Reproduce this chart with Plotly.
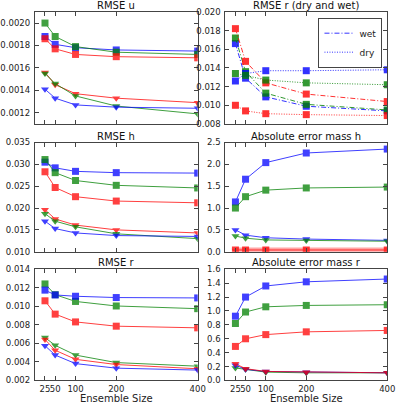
import plotly.graph_objects as go

ens = [25, 50, 100, 200, 400]
x_ticks = [25, 50, 100, 200, 400]

# RMSE u
u_sq_b = [0.00188, 0.00181, 0.00178, 0.00176, 0.00175]
u_sq_g = [0.00200, 0.00188, 0.00179, 0.00174, 0.00172]
u_sq_r = [0.00186, 0.00177, 0.00172, 0.00170, 0.00169]
u_tr_r = [0.00156, 0.00145, 0.00137, 0.00133, 0.00129]
u_tr_g = [0.00155, 0.00146, 0.00135, 0.00126, 0.00119]
u_tr_b = [0.00141, 0.00133, 0.00127, 0.00125, 0.00124]

# RMSE r (dry and wet)
rw_b = [0.0166, 0.0129, 0.0109, 0.0099, 0.0094]
rw_g = [0.0172, 0.0136, 0.0113, 0.0101, 0.0095]
rw_r = [0.0182, 0.0147, 0.0124, 0.0112, 0.0104]
rd_b = [0.0126, 0.0134, 0.0137, 0.0137, 0.0138]
rd_g = [0.0134, 0.0132, 0.0127, 0.0124, 0.0122]
rd_r = [0.0100, 0.0094, 0.0091, 0.0090, 0.0089]

# RMSE h
h_sq_b = [0.0305, 0.0292, 0.0284, 0.0281, 0.0280]
h_sq_g = [0.0311, 0.0281, 0.0263, 0.0252, 0.0246]
h_sq_r = [0.0283, 0.0247, 0.0226, 0.0216, 0.0212]
h_tr_r = [0.0196, 0.0175, 0.0161, 0.0150, 0.0143]
h_tr_g = [0.0187, 0.0170, 0.0157, 0.0141, 0.0130]
h_tr_b = [0.0170, 0.0153, 0.0143, 0.0137, 0.0135]

# Absolute error mass h
mh_sq_b = [1.14, 1.66, 2.04, 2.26, 2.35]
mh_sq_g = [1.00, 1.26, 1.41, 1.46, 1.48]
mh_sq_r = [0.04, 0.04, 0.04, 0.04, 0.04]
mh_tr_b = [0.50, 0.38, 0.32, 0.29, 0.26]
mh_tr_g = [0.36, 0.31, 0.27, 0.26, 0.24]
mh_tr_r = [0.03, 0.03, 0.03, 0.03, 0.03]

# RMSE r
r_sq_g = [0.01242, 0.01126, 0.01053, 0.01004, 0.00975]
r_sq_b = [0.01175, 0.01123, 0.01109, 0.01095, 0.01091]
r_sq_r = [0.01060, 0.00916, 0.00832, 0.00786, 0.00768]
r_tr_g = [0.00663, 0.00579, 0.00474, 0.00393, 0.00354]
r_tr_r = [0.00642, 0.00526, 0.00428, 0.00372, 0.00326]
r_tr_b = [0.00575, 0.00474, 0.00382, 0.00333, 0.00312]

# Absolute error mass r
mr_sq_b = [0.925, 1.20, 1.36, 1.42, 1.46]
mr_sq_g = [0.82, 0.985, 1.06, 1.08, 1.09]
mr_sq_r = [0.49, 0.60, 0.66, 0.70, 0.72]
mr_tr_r = [0.24, 0.17, 0.13, 0.12, 0.11]
mr_tr_b = [0.22, 0.16, 0.13, 0.12, 0.11]
mr_tr_g = [0.18, 0.16, 0.12, 0.11, 0.11]

BLUE = "#0000ff"
GREEN = "#008000"
RED = "#ff0000"

fig = go.Figure()

def add(ax, y, color, symbol, dash="solid", lw=1.0, op=0.75):
    xa = "x" if ax == 1 else "x%d" % ax
    ya = "y" if ax == 1 else "y%d" % ax
    fig.add_trace(go.Scatter(
        x=ens, y=y, mode="lines+markers", xaxis=xa, yaxis=ya,
        line=dict(color=color, width=lw, dash=dash),
        marker=dict(color=color, symbol=symbol, size=7),
        opacity=op, showlegend=False, hoverinfo="skip"))

DASHDOT = "5px,2px,1px,2px"
DOT = "1px,1.5px"

# panel 1: RMSE u
for y, c in [(u_sq_b, BLUE), (u_sq_g, GREEN), (u_sq_r, RED)]:
    add(1, y, c, "square")
for y, c in [(u_tr_r, RED), (u_tr_g, GREEN), (u_tr_b, BLUE)]:
    add(1, y, c, "triangle-down")

# panel 2: RMSE r dry and wet
for y, c in [(rw_b, BLUE), (rw_g, GREEN), (rw_r, RED)]:
    add(2, y, c, "square", dash=DASHDOT, op=0.8)
for y, c in [(rd_b, BLUE), (rd_g, GREEN), (rd_r, RED)]:
    add(2, y, c, "square", dash=DOT, op=0.8)

# panel 3: RMSE h
for y, c in [(h_sq_b, BLUE), (h_sq_g, GREEN), (h_sq_r, RED)]:
    add(3, y, c, "square")
for y, c in [(h_tr_r, RED), (h_tr_g, GREEN), (h_tr_b, BLUE)]:
    add(3, y, c, "triangle-down")

# panel 4: mass h
add(4, mh_tr_r, RED, "triangle-down", lw=6, op=0.35)
add(4, mh_sq_r, RED, "square", lw=1)
for y, c in [(mh_sq_b, BLUE), (mh_sq_g, GREEN)]:
    add(4, y, c, "square")
for y, c in [(mh_tr_b, BLUE), (mh_tr_g, GREEN)]:
    add(4, y, c, "triangle-down")

# panel 5: RMSE r
for y, c in [(r_sq_g, GREEN), (r_sq_b, BLUE), (r_sq_r, RED)]:
    add(5, y, c, "square")
for y, c in [(r_tr_g, GREEN), (r_tr_r, RED), (r_tr_b, BLUE)]:
    add(5, y, c, "triangle-down")

# panel 6: mass r
for y, c in [(mr_sq_b, BLUE), (mr_sq_g, GREEN), (mr_sq_r, RED)]:
    add(6, y, c, "square")
for y, c in [(mr_tr_g, GREEN), (mr_tr_b, BLUE), (mr_tr_r, RED)]:
    add(6, y, c, "triangle-down")

# legend entries
fig.add_trace(go.Scatter(x=[None], y=[None], mode="lines", name="wet",
                         line=dict(color=BLUE, width=1, dash=DASHDOT), xaxis="x2", yaxis="y2", opacity=0.8))
fig.add_trace(go.Scatter(x=[None], y=[None], mode="lines", name="dry",
                         line=dict(color=BLUE, width=1, dash=DOT), xaxis="x2", yaxis="y2", opacity=0.8))

W, H = 400, 404
cols = [(25 / W, 196 / W), (225 / W, 395 / W)]
rows = [(1 - 122 / H, 1 - 7 / H), (1 - 253 / H, 1 - 141 / H), (1 - 385 / H, 1 - 271 / H)]

yspecs = [
    ([0.0011, 0.0021], [0.0012, 0.0014, 0.0016, 0.0018, 0.0020], ".4f"),
    ([0.008, 0.020], [0.008, 0.010, 0.012, 0.014, 0.016, 0.018, 0.020], ".3f"),
    ([0.010, 0.035], [0.010, 0.015, 0.020, 0.025, 0.030, 0.035], ".3f"),
    ([0.0, 2.5], [0.0, 0.5, 1.0, 1.5, 2.0, 2.5], ".1f"),
    ([0.002, 0.014], [0.002, 0.004, 0.006, 0.008, 0.010, 0.012, 0.014], ".3f"),
    ([0.0, 1.6], [0.0, 0.2, 0.4, 0.6, 0.8, 1.0, 1.2, 1.4, 1.6], ".1f"),
]
titles = ["RMSE u", "RMSE r (dry and wet)", "RMSE h", "Absolute error mass h",
          "RMSE r", "Absolute error mass r"]

FONT = "DejaVu Sans"
layout = dict(
    width=W, height=H, margin=dict(l=0, r=0, t=0, b=0),
    paper_bgcolor="white", plot_bgcolor="white",
    font=dict(family=FONT, size=8, color="#222"),
    showlegend=True,
    legend=dict(x=390 / W, xanchor="right", y=1 - 13 / H, yanchor="top",
                bordercolor="#444", borderwidth=1, bgcolor="white",
                font=dict(size=9, family=FONT), tracegroupgap=0,
                itemwidth=30),
)
annotations = []
for i in range(6):
    r, c = divmod(i, 2)
    k = "" if i == 0 else str(i + 1)
    xa = dict(
        domain=list(cols[c]), range=[0, 400], tickvals=x_ticks,
        ticktext=[str(v) for v in x_ticks],
        showticklabels=(r == 2), tickangle=0,
        ticks="inside", ticklen=4, tickcolor="#444",
        showline=True, mirror="allticks", linecolor="#444", linewidth=1,
        showgrid=False, zeroline=False, anchor="y" + k,
        tickfont=dict(size=8.5, family=FONT),
    )
    rng, tv, fmt = yspecs[i]
    ya = dict(
        domain=list(rows[r]), range=rng, tickvals=tv,
        ticktext=[format(v, fmt) for v in tv],
        ticks="inside", ticklen=4, tickcolor="#444",
        showline=True, mirror="allticks", linecolor="#444", linewidth=1,
        showgrid=False, zeroline=False, anchor="x" + k,
        tickfont=dict(size=8.5, family=FONT), ticklabelstandoff=2,
    )
    if r == 2:
        xa["title"] = dict(text="Ensemble Size", font=dict(size=10, family=FONT), standoff=2)
    layout["xaxis" + k] = xa
    layout["yaxis" + k] = ya
    annotations.append(dict(
        text=titles[i], x=(cols[c][0] + cols[c][1]) / 2, xref="paper", xanchor="center",
        y=rows[r][1], yref="paper", yanchor="bottom", showarrow=False,
        font=dict(size=10, family=FONT, color="#111"), yshift=-1))
layout["annotations"] = annotations
fig.update_layout(**layout)
fig.write_html("out.html")
